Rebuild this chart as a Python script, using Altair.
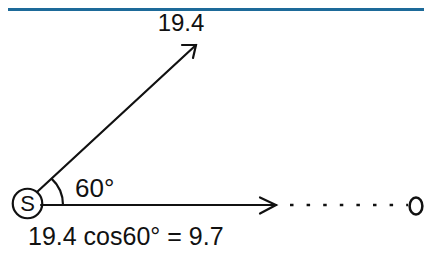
import altair as alt
import pandas as pd

# ---- geometry (page pixel coordinates) ----
seg_id = ["base", "base", "vec", "vec",
          "headA", "headA", "headA", "headB", "headB", "headB"]
seg_x = [41, 276, 37, 196, 260, 276, 260, 182, 196, 193]
seg_y = [205, 205, 192, 45, 197.5, 205, 213.5, 45, 45, 58]
seg_o = [0, 1, 0, 1, 0, 1, 2, 0, 1, 2]

dot_x = [290, 408]
dot_y = [205, 205]

circ_name = ["S", "O"]
circ_x = [27.5, 416]
circ_y = [203.5, 206]

arc_x = [27]
arc_y = [205]
arc_r = [36]
arc_t1 = [0.74]
arc_t2 = [1.5708]

bar_x = [8]
bar_x2 = [424]
bar_y = [8]
bar_y2 = [11]

labels = ["19.4", "60°", "19.4 cos60° = 9.7", "S"]
lab_x = [181, 75, 28, 27.5]
lab_y = [31, 197, 244.5, 204]

INK = "#111111"
FONT = "Liberation Sans"

xs = alt.Scale(domain=[8, 424], nice=False, zero=False)
ys = alt.Scale(domain=[250, 8], nice=False, zero=False)

segs = pd.DataFrame({"id": seg_id, "x": seg_x, "y": seg_y, "o": seg_o})
dots = pd.DataFrame({"x": dot_x, "y": dot_y})
circs = pd.DataFrame({"name": circ_name, "x": circ_x, "y": circ_y})
arcs = pd.DataFrame({"x": arc_x, "y": arc_y, "r": arc_r, "t1": arc_t1, "t2": arc_t2})
bars = pd.DataFrame({"x": bar_x, "x2": bar_x2, "y": bar_y, "y2": bar_y2})
labs = pd.DataFrame({"t": labels, "x": lab_x, "y": lab_y})

X = lambda f="x": alt.X(f"{f}:Q", scale=xs, axis=None)
Y = lambda f="y": alt.Y(f"{f}:Q", scale=ys, axis=None)

bar = alt.Chart(bars).mark_rect(color="#1d6a99").encode(
    x=X(), x2="x2:Q", y=Y(), y2="y2:Q")

lines = alt.Chart(segs).mark_line(color=INK, strokeWidth=2.2, strokeCap="round",
                                  strokeJoin="miter").encode(
    x=X(), y=Y(), detail="id:N", order="o:Q")

dotted = alt.Chart(dots).mark_line(color=INK, strokeWidth=2.5,
                                   strokeDash=[3.5, 13.1]).encode(x=X(), y=Y())

s_circle = alt.Chart(circs).transform_filter(alt.datum.name == "S").mark_point(
    shape="circle", size=870, filled=False, color=INK, strokeWidth=2.2,
    opacity=1).encode(x=X(), y=Y())

o_circle = alt.Chart(circs).transform_filter(alt.datum.name == "O").mark_point(
    shape="M -0.75,0 A 0.75,1 0 1,1 0.75,0 A 0.75,1 0 1,1 -0.75,0 Z",
    size=290, filled=False, color=INK, strokeWidth=2.5, opacity=1).encode(
    x=X(), y=Y())

arc = alt.Chart(arcs).mark_arc(fill=None, stroke=INK, strokeWidth=2.2).encode(
    x=X(), y=Y(),
    theta=alt.Theta("t1:Q", scale=None), theta2="t2:Q",
    radius=alt.Radius("r:Q", scale=None), radius2="r:Q")

def text(idx, **kw):
    d = labs.iloc[[idx]]
    return alt.Chart(d).mark_text(font=FONT, color=INK, **kw).encode(
        x=X(), y=Y(), text="t:N")

t_top = text(0, fontSize=24, align="center", baseline="alphabetic")
t_ang = text(1, fontSize=26, align="left", baseline="alphabetic")
t_bot = text(2, fontSize=25, align="left", baseline="alphabetic")
t_s = text(3, fontSize=22, align="center", baseline="middle")

chart = alt.layer(bar, lines, dotted, arc, s_circle, o_circle,
                  t_top, t_ang, t_bot, t_s).properties(
    width=416, height=242,
    autosize=alt.AutoSizeParams(type="none"),
    padding=0,
    background="white",
).configure_view(stroke=None)

chart.save("out.html", embed_options={"renderer": "svg", "actions": False})
